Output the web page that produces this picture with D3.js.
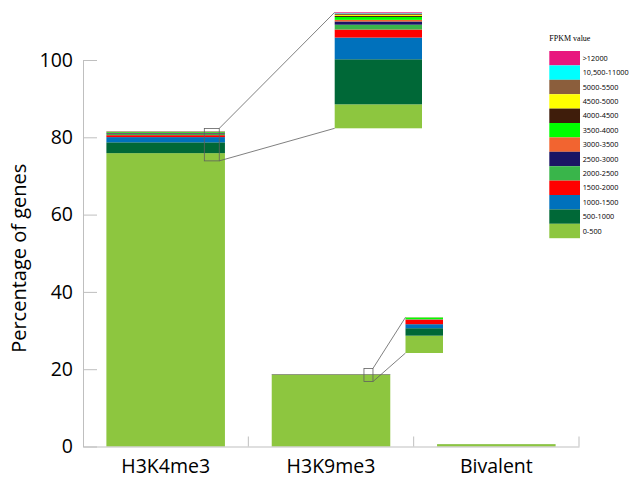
<!DOCTYPE html>
<html>
<head>
<meta charset="utf-8">
<script src="https://cdn.jsdelivr.net/npm/d3@7"></script>
<style>
  body { margin: 0; background: #fff; }
  svg { display: block; }
</style>
</head>
<body>
<svg id="chart" width="629" height="499"></svg>
<script>
// Mark categories and expression bins (FPKM ranges), bottom to top of each stack
const categories = ["H3K4me3", "H3K9me3", "Bivalent"];
const fpkmBins = ["0-500", "500-1000", "1000-1500", "1500-2000", "2000-2500", "2500-3000",
  "3000-3500", "3500-4000", "4000-4500", "4500-5000", "5000-5500", "10,500-11000", ">12000"];
const binColors = ["#8dc63f", "#006837", "#0071bc", "#ff0000", "#39b54a", "#1b1464",
  "#f26430", "#00ff00", "#3f1d0b", "#ffff00", "#8b5e3c", "#00ffff", "#e8177e"];

// Percentage of genes in each bin, per category
const h3k4me3Values = [75.9, 2.8, 1.35, 0.5, 0.3, 0.2, 0.1, 0.18, 0.06, 0.06, 0.09, 0.03, 0.05];
const h3k9me3Values = [18.5, 0.093, 0.05, 0.056, 0.003, 0.002, 0.002, 0.02, 0.001, 0.001, 0.001, 0, 0];
const bivalentValues = [0.6, 0.01, 0.005, 0.003, 0.001, 0.001, 0.001, 0.001, 0, 0, 0, 0, 0];

const yTicks = [0, 20, 40, 60, 80, 100];
const yTitle = "Percentage of genes";
const legendTitle = "FPKM value";

const seriesValues = [h3k4me3Values, h3k9me3Values, bivalentValues];
const rows = categories.map((c, i) => {
  const r = { category: c };
  fpkmBins.forEach((b, j) => r[b] = seriesValues[i][j]);
  return r;
});
const stacked = d3.stack().keys(fpkmBins)(rows);
const color = d3.scaleOrdinal().domain(fpkmBins).range(binColors);

const svg = d3.select("#chart");
const font = "'Open Sans', 'Noto Sans', sans-serif";
const axisColor = "#bfbfbf";

const x = d3.scaleBand().domain(categories).range([83, 579])
  .paddingInner(0.283).paddingOuter(0.1415);
const y = d3.scaleLinear().domain([0, 100]).range([446.5, 60]);

// Stacked bars
const barG = svg.append("g");
stacked.forEach(layer => {
  barG.selectAll(null).data(layer).join("rect")
    .attr("x", d => x(d.data.category))
    .attr("width", x.bandwidth())
    .attr("y", d => y(d[1]))
    .attr("height", d => Math.max(0, y(d[0]) - y(d[1])))
    .attr("fill", color(layer.key));
});

// Y axis: ticks point into the plot
const yAxis = svg.append("g").attr("transform", "translate(83,0)")
  .call(d3.axisLeft(y).tickValues(yTicks).tickSizeInner(-14).tickSizeOuter(0).tickPadding(10));
yAxis.select(".domain").attr("stroke", axisColor);
yAxis.selectAll(".tick line").attr("stroke", axisColor);
yAxis.selectAll(".tick text").attr("font-family", font).attr("font-size", 19.5).attr("fill", "#000");

// X axis: category labels, with ticks on the band boundaries
const xAxis = svg.append("g").attr("transform", `translate(0,${y(0)})`)
  .call(d3.axisBottom(x).tickSize(0).tickPadding(13));
xAxis.select(".domain").attr("stroke", axisColor);
xAxis.selectAll(".tick text").attr("font-family", font).attr("font-size", 19.5).attr("fill", "#000");
const bounds = categories.slice(1).map(c => x(c) - x.step() * x.paddingInner() / 2)
  .concat([x.range()[1]]);
xAxis.selectAll(".bound").data(bounds).join("line")
  .attr("x1", d => d).attr("x2", d => d).attr("y1", 0).attr("y2", -10)
  .attr("stroke", axisColor);

svg.append("text")
  .attr("transform", `translate(26,${(y(0) + y(100)) / 2 + 5}) rotate(-90)`)
  .attr("text-anchor", "middle")
  .attr("font-family", font).attr("font-size", 20)
  .text(yTitle);

// Magnified views of the top of the stacks
const insets = [
  { category: "H3K4me3", frame: [73.9, 82.3], frameX: [0.826, 0.952], viewLow: 74.41,
    box: { x: 334.7, y: 12.3, w: 87.3, h: 116 } },
  { category: "H3K9me3", frame: [16.8, 20.2], frameX: [0.778, 0.854], viewLow: 18.284,
    box: { x: 405.5, y: 317.3, w: 37.5, h: 35.7 } }
];
const lineColor = "#606060";
insets.forEach(ins => {
  const ci = categories.indexOf(ins.category);
  const fx0 = x(ins.category) + ins.frameX[0] * x.bandwidth();
  const fx1 = x(ins.category) + ins.frameX[1] * x.bandwidth();
  const fyTop = y(ins.frame[1]), fyBot = y(ins.frame[0]);
  svg.append("rect")
    .attr("x", fx0).attr("y", fyTop).attr("width", fx1 - fx0).attr("height", fyBot - fyTop)
    .attr("fill", "none").attr("stroke", lineColor).attr("stroke-width", 0.8);
  const b = ins.box;
  svg.append("line").attr("x1", fx1).attr("y1", fyTop).attr("x2", b.x).attr("y2", b.y)
    .attr("stroke", lineColor).attr("stroke-width", 0.8);
  svg.append("line").attr("x1", fx1).attr("y1", fyBot).attr("x2", b.x).attr("y2", b.y + b.h)
    .attr("stroke", lineColor).attr("stroke-width", 0.8);

  const total = d3.sum(seriesValues[ci]);
  const yIn = d3.scaleLinear().domain([ins.viewLow, total]).range([b.y + b.h, b.y]).clamp(true);
  const g = svg.append("g");
  stacked.forEach(layer => {
    const d = layer[ci];
    const h = yIn(d[0]) - yIn(d[1]);
    if (h <= 0) return;
    g.append("rect")
      .attr("x", b.x).attr("width", b.w)
      .attr("y", yIn(d[1])).attr("height", h)
      .attr("fill", color(layer.key));
  });
});

// Legend, top bin first
const legend = svg.append("g").attr("transform", "translate(549.3,51)");
legend.append("text").attr("x", 0).attr("y", -10)
  .attr("font-family", "'Liberation Serif', 'DejaVu Serif', serif").attr("font-size", 8)
  .text(legendTitle);
const sw = 14.4;
const legendBins = fpkmBins.slice().reverse();
legend.selectAll("rect").data(legendBins).join("rect")
  .attr("x", 0).attr("y", (d, i) => i * sw).attr("width", 30.7).attr("height", sw)
  .attr("fill", d => color(d));
legend.selectAll(".lab").data(legendBins).join("text")
  .attr("x", 33.4).attr("y", (d, i) => i * sw + sw / 2)
  .attr("dy", "0.35em")
  .attr("font-family", font).attr("font-size", 7.3)
  .text(d => d);
</script>
</body>
</html>
